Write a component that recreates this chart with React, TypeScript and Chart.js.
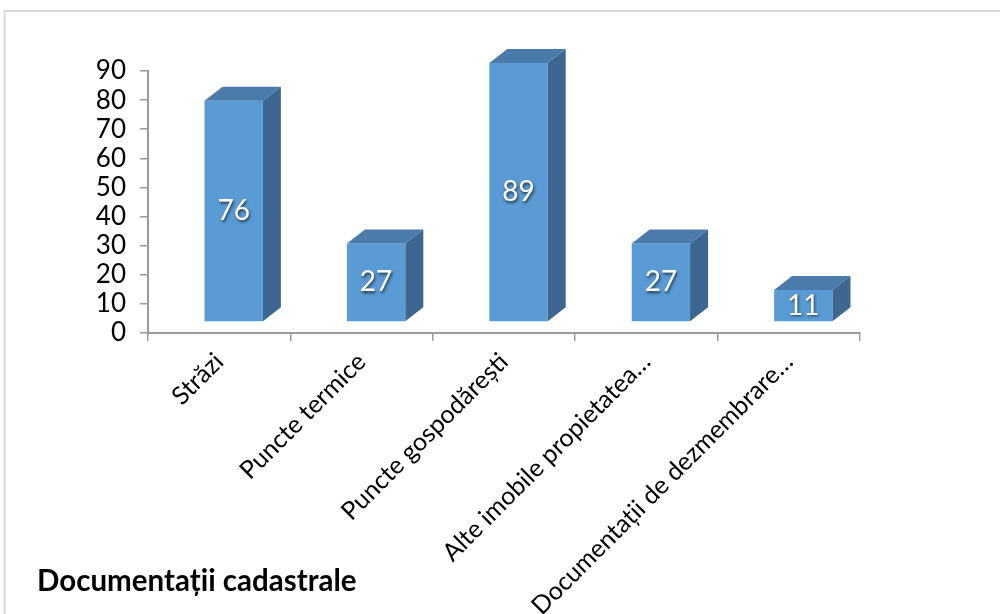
import React, { useEffect, useRef } from "react";
import { Chart, registerables } from "chart.js";

Chart.register(...registerables);

const categories = [
  "Străzi",
  "Puncte termice",
  "Puncte gospodărești",
  "Alte imobile propietatea…",
  "Documentații de dezmembrare…",
];
const values = [76, 27, 89, 27, 11];
const yTickValues = [0, 10, 20, 30, 40, 50, 60, 70, 80, 90];
const chartTitle = "Documentații cadastrale";

const FRONT = "#5B9BD5";
const TOP = "#4A7BAA";
const SIDE = "#3D6690";
const FONT = "Lato, 'Open Sans', sans-serif";

// 3D projection offsets
const SHIFT_X = 14.5;
const SHIFT_Y = -11;
const DEPTH_X = 18;
const DEPTH_Y = -14;

const bar3d = {
  id: "bar3d",
  beforeDraw(chart: any) {
    const ctx = chart.ctx;
    ctx.save();
    ctx.strokeStyle = "#d9d9d9";
    ctx.lineWidth = 2;
    ctx.beginPath();
    ctx.moveTo(4.5, 614);
    ctx.lineTo(4.5, 11);
    ctx.lineTo(1000, 11);
    ctx.stroke();
    ctx.restore();
  },
  beforeDatasetsDraw(chart: any) {
    const ctx = chart.ctx;
    ctx.save();
    ctx.translate(SHIFT_X, SHIFT_Y);
  },
  afterDatasetsDraw(chart: any) {
    const ctx = chart.ctx;
    const meta = chart.getDatasetMeta(0);
    meta.data.forEach((el: any, i: number) => {
      const p = el.getProps(["x", "y", "base", "width"], true);
      const l = p.x - p.width / 2;
      const r = p.x + p.width / 2;
      const t = p.y;
      const b = p.base;
      // top face
      ctx.fillStyle = TOP;
      ctx.beginPath();
      ctx.moveTo(l, t);
      ctx.lineTo(r, t);
      ctx.lineTo(r + DEPTH_X, t + DEPTH_Y);
      ctx.lineTo(l + DEPTH_X, t + DEPTH_Y);
      ctx.closePath();
      ctx.fill();
      // side face
      ctx.fillStyle = SIDE;
      ctx.beginPath();
      ctx.moveTo(r, t);
      ctx.lineTo(r + DEPTH_X, t + DEPTH_Y);
      ctx.lineTo(r + DEPTH_X, b + DEPTH_Y);
      ctx.lineTo(r, b);
      ctx.closePath();
      ctx.fill();
      // value label
      ctx.save();
      ctx.font = `28px ${FONT}`;
      ctx.textAlign = "center";
      ctx.textBaseline = "middle";
      ctx.shadowColor = "rgba(0,0,0,0.65)";
      ctx.shadowBlur = 3;
      ctx.shadowOffsetX = 1;
      ctx.shadowOffsetY = 1.5;
      ctx.fillStyle = "#ffffff";
      ctx.fillText(String(values[i]), p.x, (t + b) / 2);
      ctx.restore();
    });
    ctx.restore();
  },
  afterDraw(chart: any) {
    const ctx = chart.ctx;
    ctx.save();
    ctx.font = `bold 29.5px ${FONT}`;
    ctx.fillStyle = "#000";
    ctx.textAlign = "left";
    ctx.textBaseline = "alphabetic";
    ctx.fillText(chartTitle, 37, 591);
    ctx.restore();
  },
};

export default function App() {
  const ref = useRef<HTMLCanvasElement | null>(null);
  useEffect(() => {
    document.body.style.margin = "0";
    const chart = new Chart(ref.current as HTMLCanvasElement, {
      type: "bar",
      data: {
        labels: categories,
        datasets: [
          {
            data: values,
            backgroundColor: FRONT,
            borderWidth: 0,
            categoryPercentage: 1,
            barPercentage: 0.41,
          },
        ],
      },
      options: {
        responsive: false,
        animation: false,
        events: [],
        layout: { padding: { top: 71, right: 140, left: 0, bottom: 0 } },
        plugins: {
          legend: { display: false },
          tooltip: { enabled: false },
          title: { display: false },
        },
        scales: {
          x: {
            grid: {
              display: true,
              drawOnChartArea: false,
              drawTicks: true,
              tickLength: 8,
              color: "#9a9a9a",
              lineWidth: 1.5,
              offset: true,
            },
            border: { display: true, color: "#9a9a9a", width: 2 },
            ticks: {
              autoSkip: false,
              maxRotation: 45,
              minRotation: 45,
              color: "#000",
              padding: 6,
              font: { family: FONT, size: 25 },
            },
            afterFit(scale: any) {
              scale.height = 614 - 333;
            },
          },
          y: {
            min: 0,
            max: 90,
            afterBuildTicks(scale: any) {
              scale.ticks = yTickValues.map((v) => ({ value: v }));
            },
            grid: {
              display: true,
              drawOnChartArea: false,
              drawTicks: true,
              tickLength: 8,
              color: "#9a9a9a",
              lineWidth: 1.5,
            },
            border: { display: true, color: "#9a9a9a", width: 2 },
            ticks: {
              autoSkip: false,
              stepSize: 10,
              color: "#000",
              padding: 14,
              font: { family: FONT, size: 26 },
            },
            afterFit(scale: any) {
              scale.width = 148;
            },
          },
        },
      },
      plugins: [bar3d],
    } as any);
    return () => chart.destroy();
  }, []);
  return (
    <div style={{ position: "absolute", left: 0, top: 0, width: 1000, height: 614, background: "#fff" }}>
      <canvas ref={ref} width={1000} height={614} />
    </div>
  );
}
